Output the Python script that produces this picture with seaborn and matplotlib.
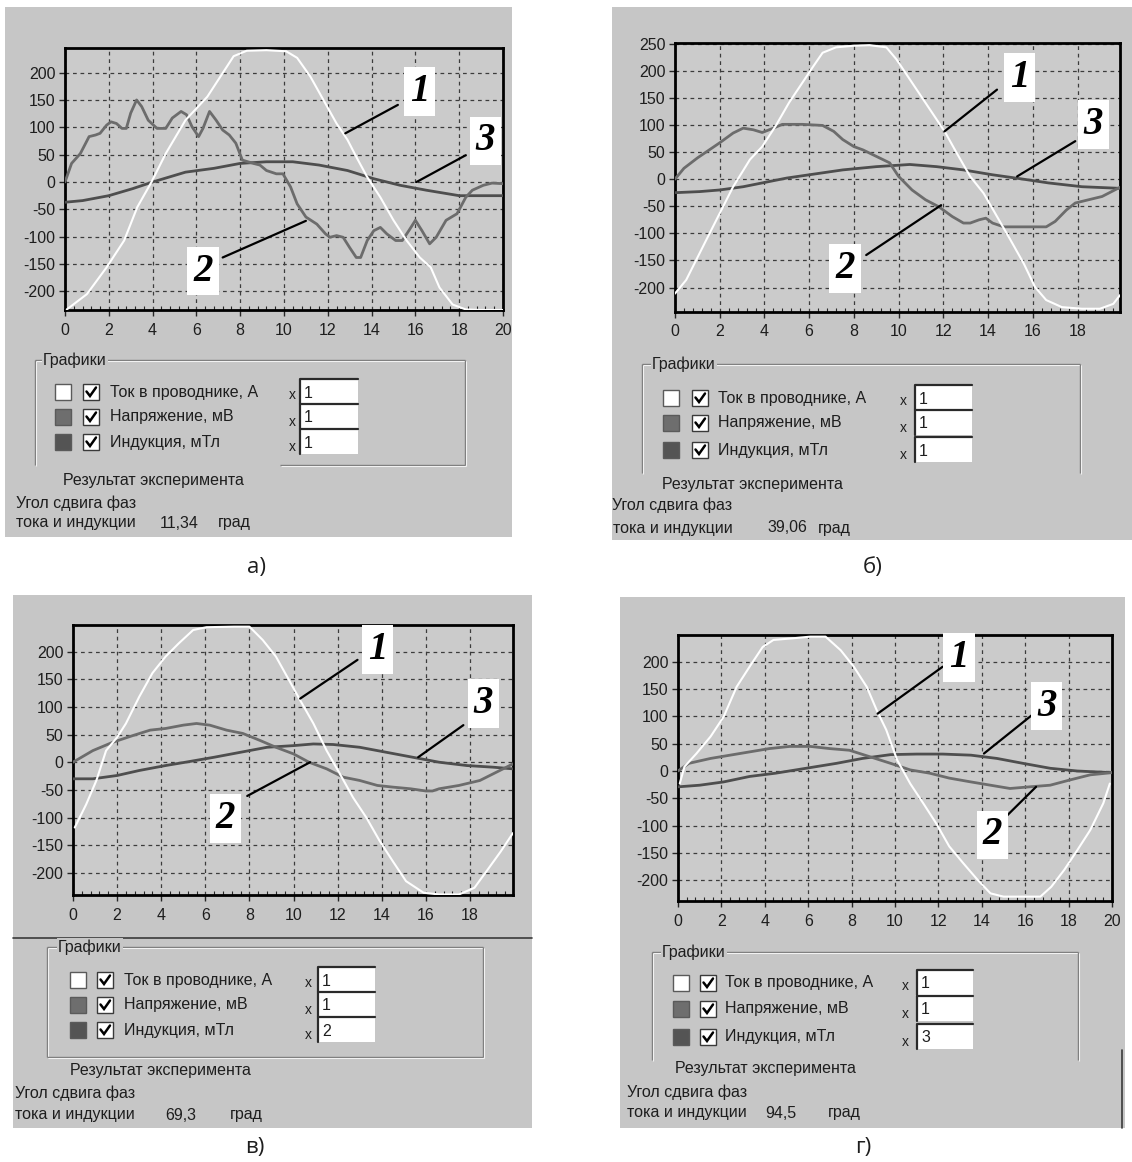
import numpy as np
import pandas as pd
import matplotlib
matplotlib.use("Agg")
import matplotlib.pyplot as plt
from matplotlib.patches import Rectangle
from matplotlib.ticker import MultipleLocator
import seaborn as sns

sns.set_style("ticks")
plt.rcParams['font.family'] = ['Liberation Sans', 'DejaVu Sans']
plt.rcParams['axes.unicode_minus'] = False

# ---------------- data ----------------
SERIES_NAMES = ["Ток в проводнике, А", "Напряжение, мВ", "Индукция, мТл"]
PANEL_LETTERS = ["а)", "б)", "в)", "г)"]
ANGLES = ["11,34", "39,06", "69,3", "94,5"]
SCALES_A = ["1", "1", "1"]
SCALES_B = ["1", "1", "1"]
SCALES_C = ["1", "1", "2"]
SCALES_D = ["1", "1", "3"]
TAGS = ["1", "2", "3"]
RESULT_TITLE = "Результат эксперимента"
ANGLE_LINE1 = "Угол сдвига фаз"
ANGLE_LINE2 = "тока и индукции"
UNIT = "град"
GROUP_TITLE = "Графики"

# panel а
A_I_X = [0.08, 1.0, 1.9, 2.7, 3.3, 3.95, 4.6, 5.5, 6.5, 7.1, 7.7, 8.3, 9.2, 10.1, 10.6, 11.2, 11.8,
         12.4, 12.9, 13.3, 13.8, 14.4, 15.0, 15.6, 16.2, 16.7, 17.1, 17.7, 18.3, 19.0, 20.0]
A_I_Y = [-233, -205, -156, -107, -46, 0, 52, 113, 156, 193, 230, 240, 241, 239, 227, 193, 150,
         107, 77, 46, 9, -28, -70, -107, -138, -156, -193, -224, -233, -234, -234]
A_U_X = [0, 0.3, 0.7, 1.1, 1.4, 1.6, 1.9, 2.1, 2.35, 2.6, 2.8, 3.0, 3.27, 3.5, 3.8, 4.2, 4.6, 4.9,
         5.3, 5.55, 5.8, 6.1, 6.3, 6.6, 6.9, 7.2, 7.5, 7.8, 8.1, 8.6, 8.9, 9.2, 9.65, 9.95, 10.3,
         10.6, 11.0, 11.5, 11.9, 12.1, 12.4, 12.7, 13.0, 13.3, 13.5, 13.8, 14.1, 14.4, 14.7, 15.1,
         15.4, 15.7, 16.0, 16.3, 16.65, 16.95, 17.4, 17.9, 18.3, 18.6, 19.1, 19.5, 20.0]
A_U_Y = [0, 34, 52, 83, 86, 89, 104, 110, 107, 98, 98, 126, 150, 138, 113, 98, 98, 117,
         129, 123, 101, 83, 98, 129, 113, 95, 86, 71, 40, 34, 31, 21, 15, 15, -9,
         -40, -64, -77, -95, -101, -98, -101, -120, -138, -138, -107, -89, -83, -95, -107,
         -107, -89, -70, -89, -113, -101, -70, -58, -28, -15, -6, -2, -3]
A_B_X = [0, 0.8, 2.0, 3.1, 4.0, 5.5, 6.8, 8.0, 9.2, 10.4, 11.6, 12.9, 14.1, 15.3, 16.5, 18.0, 20.0]
A_B_Y = [-37, -34, -25, -12, 0, 18, 25, 34, 37, 37, 31, 21, 6, -6, -15, -25, -25]
A_TAG_XY = [(16.2, 166), (6.3, -163), (19.2, 75)]
A_LEAD = [((15.2, 141), (12.8, 89)), ((7.2, -138), (11.0, -71)), ((18.3, 49), (16.05, 0))]

# panel б
B_I_X = [0, 0.5, 1.4, 2.0, 2.6, 3.35, 3.9, 4.5, 5.1, 5.7, 6.2, 6.6, 7.2, 8.0, 8.7, 9.45, 9.9, 10.5,
         11.1, 11.7, 12.1, 12.6, 13.2, 13.8, 14.4, 15.0, 15.6, 16.1, 16.6, 17.3, 18.2, 19.0, 19.6, 19.9]
B_I_Y = [-211, -186, -112, -63, -14, 36, 60, 98, 141, 178, 209, 233, 243, 246, 247, 243, 221, 184,
         147, 110, 85, 48, 5, -26, -69, -112, -156, -199, -223, -236, -239, -239, -230, -214]
B_U_X = [0, 0.4, 1.0, 2.0, 2.6, 3.05, 3.5, 3.9, 4.4, 4.8, 5.7, 6.6, 7.1, 7.5, 8.0, 8.4, 9.0, 9.6,
         10.0, 10.6, 11.2, 11.8, 12.4, 12.9, 13.2, 13.6, 13.9, 14.2, 14.7, 15.3, 16.0, 16.6, 17.0,
         17.5, 17.9, 18.5, 19.1, 19.9]
B_U_Y = [0, 20, 39, 67, 85, 94, 91, 86, 94, 101, 101, 99, 88, 73, 60, 54, 42, 30,
         5, -20, -38, -51, -69, -81, -81, -75, -72, -81, -88, -88, -88, -88, -78,
         -57, -44, -38, -32, -15]
B_B_X = [0, 1.1, 2.0, 3.05, 3.9, 5.0, 6.0, 7.5, 9.0, 10.5, 11.7, 12.9, 14.2, 15.4, 16.7, 18.2, 19.9]
B_B_Y = [-25, -23, -20, -14, -7, 2, 8, 17, 23, 27, 23, 17, 8, 1, -7, -14, -17]
B_TAG_XY = [(15.4, 187), (7.6, -165), (18.7, 101)]
B_LEAD = [((14.4, 165), (12.05, 88)), ((8.55, -140), (11.9, -48)), ((17.9, 70), (15.3, 5))]

# panel в
C_I_X = [0.08, 0.6, 1.06, 1.5, 2.0, 2.4, 3.0, 3.6, 4.2, 4.8, 5.45, 6.05, 7.3, 8.0, 8.6, 9.2, 9.8,
         10.3, 10.9, 11.5, 12.1, 12.7, 13.3, 13.9, 14.5, 15.1, 15.9, 16.6, 17.5, 18.2, 18.75, 19.4, 19.95]
C_I_Y = [-118, -76, -33, 21, 45, 70, 118, 161, 191, 215, 239, 244, 245, 245, 221, 191, 148,
         112, 70, 21, -21, -64, -100, -142, -179, -215, -236, -239, -239, -227, -197, -161, -128]
C_U_X = [0, 0.9, 1.8, 2.7, 3.5, 4.2, 5.0, 5.6, 6.2, 6.96, 7.7, 8.5, 9.2, 10.0, 10.7, 11.5, 12.25,
         13.0, 13.8, 14.5, 15.3, 16.0, 16.3, 16.6, 17.5, 18.45, 19.2, 19.95]
C_U_Y = [0, 21, 36, 48, 58, 61, 67, 70, 67, 58, 52, 39, 27, 15, 0, -12, -27,
         -33, -42, -45, -48, -52, -52, -48, -42, -33, -18, -3]
C_B_X = [0, 0.9, 2.0, 3.0, 4.2, 5.1, 6.4, 7.6, 8.8, 10.0, 10.9, 11.8, 13.0, 14.2, 15.4, 16.6, 17.85, 19.05, 19.95]
C_B_Y = [-30, -30, -24, -15, -6, 0, 9, 18, 27, 30, 33, 32, 27, 18, 9, 0, -6, -9, -12]
C_TAG_XY = [(13.8, 204), (6.9, -102), (18.6, 106)]
C_LEAD = [((12.9, 185), (10.3, 115)), ((7.9, -61), (10.75, 0)), ((17.7, 67), (15.65, 9))]

# panel г
D_I_X = [0.08, 0.3, 0.85, 1.5, 2.1, 2.7, 3.3, 3.9, 4.4, 5.3, 6.1, 6.8, 7.5, 8.1, 8.7, 9.15, 9.6, 10.1,
         10.7, 11.3, 11.9, 12.5, 13.15, 13.8, 14.4, 15.0, 15.9, 16.7, 17.2, 17.8, 18.4, 19.0, 19.6, 19.9]
D_I_Y = [-23, 8, 32, 63, 99, 154, 191, 227, 240, 243, 246, 246, 221, 191, 154, 112, 75, 20,
         -23, -59, -96, -138, -169, -199, -224, -230, -230, -230, -212, -181, -145, -108, -59, -23]
D_U_X = [0, 0.5, 1.5, 2.4, 3.3, 4.2, 5.15, 6.1, 7.0, 7.9, 8.85, 9.8, 10.7, 11.6, 12.5, 13.5, 14.4,
         15.3, 16.2, 17.15, 18.1, 19.0, 20.0]
D_U_Y = [0, 14, 23, 29, 35, 41, 45, 45, 41, 38, 26, 14, 2, -4, -13, -20, -26,
         -32, -29, -26, -16, -7, -3]
D_B_X = [0, 1.0, 2.1, 3.3, 4.5, 5.9, 7.3, 8.5, 9.8, 11.0, 12.2, 13.5, 14.7, 15.9, 17.15, 18.4, 20.0]
D_B_Y = [-29, -26, -20, -10, -4, 5, 14, 23, 30, 31, 31, 29, 23, 14, 5, 0, -3]
D_TAG_XY = [(12.95, 208), (14.5, -117), (17.0, 119)]
D_LEAD = [((12.2, 191), (9.2, 105)), ((15.1, -84), (16.5, -29)), ((16.3, 102), (14.1, 32))]

# ---------------- style ----------------
W, H = 1132, 1162
PANEL = "#c6c6c6"
PLOTBG = "#cbcbcb"
C_CUR = "#ffffff"
C_VOLT = "#6c6c6c"
C_IND = "#4e4e4e"
SWATCH = ["#ffffff", "#6e6e6e", "#545454"]
TXT = "#1e1e1e"

fig = plt.figure(figsize=(W / 100, H / 100), dpi=100)
fig.patch.set_facecolor("white")

bg = fig.add_axes([0, 0, 1, 1])
bg.set_xlim(0, W)
bg.set_ylim(H, 0)
bg.axis("off")


def rect_px(x0, y0, x1, y1):
    return [x0 / W, 1 - y1 / H, (x1 - x0) / W, (y1 - y0) / H]


panels = [
    dict(letter=PANEL_LETTERS[0], angle=ANGLES[0], scales=SCALES_A,
         I=(A_I_X, A_I_Y), U=(A_U_X, A_U_Y), B=(A_B_X, A_B_Y), tags=A_TAG_XY, leads=A_LEAD,
         pbox=(5, 7, 512, 537), ax=(65, 48, 503, 310), xlim=(0, 20), ylim=(-234, 245),
         xt=np.arange(0, 21, 2), yt=np.arange(-200, 201, 50),
         gbox=(35, 360, 465, 465), gsides="a", gtx=43,
         rows=(392, 417, 442), sq=55, cb=83, tx=110, xx=292, fld=(300, 358),
         res=(63, 481), l1=(16, 503), l2=(16, 523), ang=160, unit=218, lab=(257, 568)),
    dict(letter=PANEL_LETTERS[1], angle=ANGLES[1], scales=SCALES_B,
         I=(B_I_X, B_I_Y), U=(B_U_X, B_U_Y), B=(B_B_X, B_B_Y), tags=B_TAG_XY, leads=B_LEAD,
         pbox=(612, 7, 1132, 540), ax=(675, 43, 1120, 312), xlim=(0, 19.9), ylim=(-245, 251),
         xt=np.arange(0, 19, 2), yt=np.arange(-200, 251, 50),
         gbox=(642, 364, 1080, 473), gsides="sides", gtx=652,
         rows=(398, 423, 450), sq=663, cb=692, tx=718, xx=903, fld=(915, 972),
         res=(662, 484), l1=(612, 505), l2=(613, 528), ang=767, unit=818, lab=(873, 567)),
    dict(letter=PANEL_LETTERS[2], angle=ANGLES[2], scales=SCALES_C,
         I=(C_I_X, C_I_Y), U=(C_U_X, C_U_Y), B=(C_B_X, C_B_Y), tags=C_TAG_XY, leads=C_LEAD,
         pbox=(13, 595, 532, 1128), ax=(73, 625, 513, 895), xlim=(0, 19.95), ylim=(-240, 248),
         xt=np.arange(0, 19, 2), yt=np.arange(-200, 201, 50),
         gbox=(47, 947, 483, 1057), gsides="full", gtx=58,
         rows=(980, 1005, 1030), sq=70, cb=97, tx=124, xx=308, fld=(318, 375),
         res=(70, 1070), l1=(15, 1093), l2=(15, 1115), ang=165, unit=230, lab=(255, 1147)),
    dict(letter=PANEL_LETTERS[3], angle=ANGLES[3], scales=SCALES_D,
         I=(D_I_X, D_I_Y), U=(D_U_X, D_U_Y), B=(D_B_X, D_B_Y), tags=D_TAG_XY, leads=D_LEAD,
         pbox=(620, 597, 1125, 1128), ax=(678, 635, 1112, 901), xlim=(0, 20), ylim=(-238, 249),
         xt=np.arange(0, 21, 2), yt=np.arange(-200, 201, 50),
         gbox=(652, 952, 1078, 1060), gsides="sides", gtx=662,
         rows=(983, 1009, 1037), sq=673, cb=700, tx=725, xx=905, fld=(917, 973),
         res=(675, 1068), l1=(627, 1092), l2=(627, 1113), ang=765, unit=828, lab=(863, 1147)),
]

UI_FS = 11.5


def etched(x0, y0, x1, y1):
    bg.plot([x0, x1], [y0, y1], color="#7a7a7a", lw=1.0, solid_capstyle="butt")
    bg.plot([x0 + 1, x1 + 1], [y0 + 1, y1 + 1], color="#f2f2f2", lw=0.8, solid_capstyle="butt")


for p in panels:
    x0, y0, x1, y1 = p["pbox"]
    bg.add_patch(Rectangle((x0, y0), x1 - x0, y1 - y0, fc=PANEL, ec="none", zorder=0))

    # group box
    gx0, gy0, gx1, gy1 = p["gbox"]
    etched(gx0, gy0, gx1, gy0)
    etched(gx0, gy0, gx0, gy1)
    etched(gx1, gy0, gx1, gy1)
    if p["gsides"] == "full":
        etched(gx0, gy1, gx1, gy1)
    elif p["gsides"] == "a":
        etched(gx0 + 245, gy1, gx1, gy1)
    bg.text(p["gtx"], gy0, GROUP_TITLE, fontsize=UI_FS, color=TXT, va="center", ha="left",
            bbox=dict(boxstyle="square,pad=0.05", fc=PANEL, ec="none"), zorder=5)

    for i, ry in enumerate(p["rows"]):
        s = 16
        bg.add_patch(Rectangle((p["sq"], ry - s / 2), s, s, fc=SWATCH[i], ec="#5a5a5a", lw=1.0, zorder=3))
        bg.add_patch(Rectangle((p["cb"], ry - s / 2), s, s, fc="white", ec="#3a3a3a", lw=1.0, zorder=3))
        cx, cy = p["cb"], ry - s / 2
        bg.plot([cx + 3.5, cx + 7, cx + 13], [cy + 7.5, cy + 12, cy + 3.5], color="black", lw=1.8,
                solid_joinstyle="miter", zorder=4)
        bg.text(p["tx"], ry, SERIES_NAMES[i], fontsize=UI_FS, color=TXT, va="center", ha="left")
        bg.text(p["xx"], ry + 3 + (2 if i else 0), "x", fontsize=10, color=TXT, va="center", ha="center")
        fx0, fx1 = p["fld"]
        fh = 25
        fy0 = ry - fh / 2 - 1
        bg.add_patch(Rectangle((fx0, fy0), fx1 - fx0, fh, fc="white", ec="none", zorder=3))
        bg.plot([fx0, fx0, fx1], [fy0 + fh, fy0, fy0], color="#2a2a2a", lw=1.6, zorder=4)
        bg.text(fx0 + 4, fy0 + 19, p["scales"][i], fontsize=UI_FS, color=TXT, va="baseline", ha="left",
                zorder=5)

    bg.text(p["res"][0], p["res"][1], RESULT_TITLE, fontsize=UI_FS, color=TXT, va="center", ha="left")
    bg.text(p["l1"][0], p["l1"][1], ANGLE_LINE1, fontsize=UI_FS, color=TXT, va="center", ha="left")
    bg.text(p["l2"][0], p["l2"][1], ANGLE_LINE2, fontsize=UI_FS, color=TXT, va="center", ha="left")
    bg.text(p["ang"], p["l2"][1], p["angle"], fontsize=UI_FS, color=TXT, va="center", ha="left")
    bg.text(p["unit"], p["l2"][1], UNIT, fontsize=UI_FS, color=TXT, va="center", ha="left")
    bg.text(p["lab"][0], p["lab"][1], p["letter"], fontsize=16, color=TXT, va="center", ha="center",
            family=["Open Sans", "DejaVu Sans"])

# extra window borders
bg.plot([13, 532], [938, 938], color="#3a3a3a", lw=1.2)
bg.plot([1122, 1122], [1050, 1128], color="#3a3a3a", lw=1.2)

# ---------------- plots ----------------
for p in panels:
    ax = fig.add_axes(rect_px(*p["ax"]))
    ax.set_facecolor(PLOTBG)
    dfI = pd.DataFrame({"t": p["I"][0], "v": p["I"][1]})
    dfU = pd.DataFrame({"t": p["U"][0], "v": p["U"][1]})
    dfB = pd.DataFrame({"t": p["B"][0], "v": p["B"][1]})
    sns.lineplot(data=dfB, x="t", y="v", ax=ax, color=C_IND, lw=2.0, zorder=3)
    sns.lineplot(data=dfU, x="t", y="v", ax=ax, color=C_VOLT, lw=2.0, zorder=3)
    sns.lineplot(data=dfI, x="t", y="v", ax=ax, color=C_CUR, lw=1.5, zorder=4)
    ax.set_xlim(*p["xlim"])
    ax.set_ylim(*p["ylim"])
    ax.set_xticks(p["xt"])
    ax.set_yticks(p["yt"])
    ax.xaxis.set_minor_locator(MultipleLocator(0.4))
    ax.set_xlabel("")
    ax.set_ylabel("")
    ax.grid(True, which="major", color="#3c3c3c", lw=0.9, linestyle=(0, (3, 3)), zorder=1)
    ax.set_axisbelow(True)
    ax.tick_params(axis="both", which="major", direction="out", length=4, width=1,
                   labelsize=11.5, labelcolor=TXT, pad=3)
    ax.tick_params(axis="x", which="major", pad=5)
    ax.tick_params(axis="x", which="minor", direction="in", length=3, width=0.8)
    for sp in ax.spines.values():
        sp.set_visible(True)
        sp.set_linewidth(2)
        sp.set_color("black")

    for (tx, ty), (s, e), tag in zip(p["tags"], p["leads"], TAGS):
        ax.annotate("", xy=e, xytext=s, arrowprops=dict(arrowstyle="-", color="black", lw=1.6,
                                                          shrinkA=0, shrinkB=0), zorder=6)
        ax.text(tx, ty, tag, fontsize=28, fontweight="bold", fontstyle="italic",
                family=["Liberation Serif", "DejaVu Serif"], color="black", ha="center", va="center",
                bbox=dict(boxstyle="square,pad=0.15", fc="white", ec="none"), zorder=7)

fig.savefig("out.png", dpi=100, facecolor="white")
